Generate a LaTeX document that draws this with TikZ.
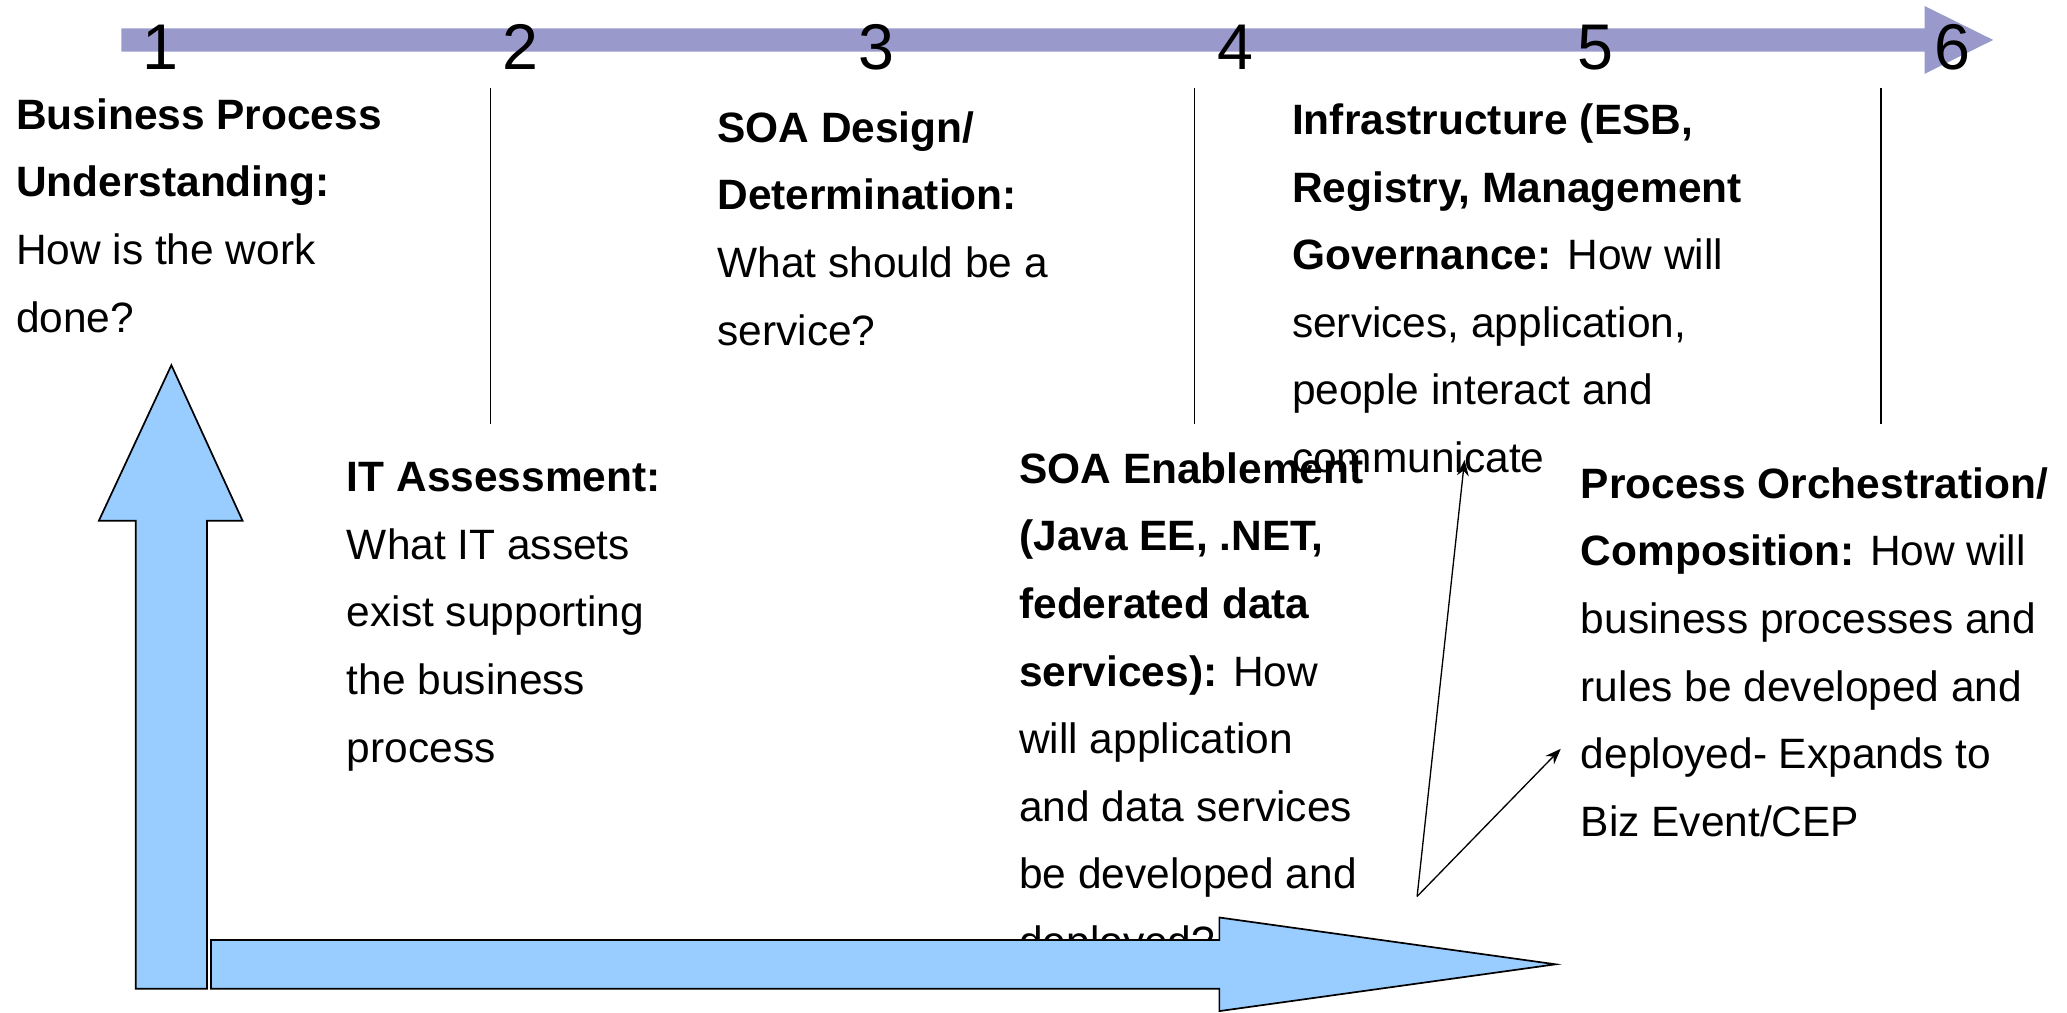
\documentclass[tikz,border=0pt]{standalone}
\usepackage{fontspec}
\setmainfont{Liberation Sans}
\usetikzlibrary{arrows.meta}
\definecolor{timeline}{RGB}{153,153,204}
\definecolor{bigarrow}{RGB}{153,204,255}
\tikzset{
  txt/.style={anchor=base west, inner sep=0pt, font=\fontsize{32.2}{51.3}\selectfont},
  num/.style={anchor=base, inner sep=0pt, font=\fontsize{49}{55}\selectfont},
  divider/.style={draw=black, line width=1pt},
  bigarr/.style={fill=bigarrow, draw=black, line width=1.3pt, line join=miter},
  thinarr/.style={draw=black, line width=1pt, -{Stealth[length=12pt,width=9pt]}}
}
\newcommand{\tb}[2]{\parbox[t]{#1pt}{\raggedright #2}}
\begin{document}
\begin{tikzpicture}[x=1pt,y=-1pt]
\useasboundingbox (0,0) rectangle (1568,768);
% timeline arrow
\fill[timeline] (92,21.5) -- (1460,21.5) -- (1460,4.6) -- (1512,30.3) -- (1460,56) -- (1460,39.2) -- (92,39.2) -- cycle;
% numbers
\node[num] (n1) at (122,53) {1};
\node[num] (n2) at (395,53) {2};
\node[num] (n3) at (665,53) {3};
\node[num] (n4) at (937,53) {4};
\node[num] (n5) at (1210,53) {5};
\node[num] (n6) at (1481,53) {6};
% dividers
\draw[divider] (372,67) -- (372,322);
\draw[divider] (906,67) -- (906,322);
\draw[divider] (1427,67) -- (1427,322);
% texts
\node[txt] (t1) at (12,98) {\tb{400}{\textbf{Business Process}\\\textbf{Understanding:}\\How is the work\\done?}};
\node[txt] (t2) at (544,108) {\tb{400}{\textbf{SOA Design/}\\\textbf{Determination:}\\What should be a\\service?}};
\node[txt] (t3) at (980,102) {\tb{500}{\textbf{Infrastructure (ESB,}\\\textbf{Registry, Management}\\\textbf{Governance:} How will\\services, application,\\people interact and\\communicate}};
\node[txt] (t4) at (263,373) {\tb{400}{\textbf{IT Assessment:}\\What IT assets\\exist supporting\\the business\\process}};
\node[txt] (t5) at (773,366.5) {\tb{400}{\textbf{SOA Enablement}\\\textbf{(Java EE, .NET,}\\\textbf{federated data}\\\textbf{services):} How\\will application\\and data services\\be developed and\\deployed?}};
\node[txt] (t6) at (1199,378) {\tb{400}{\textbf{Process Orchestration/}\\\textbf{Composition:} How will\\business processes and\\rules be developed and\\deployed- Expands to\\Biz Event/CEP}};
% big arrows
\draw[bigarr] (103,750) -- (103,395) -- (75,395) -- (130,277) -- (184,395) -- (157,395) -- (157,750) -- cycle;
\draw[bigarr] (160,713) -- (925,713) -- (925,696) -- (1180,731.5) -- (925,767) -- (925,750) -- (160,750) -- cycle;
% thin arrows
\coordinate (o) at (1075,680);
\coordinate (a1) at (1111,349);
\coordinate (a2) at (1184,568);
\draw[thinarr] (o) -- (a1);
\draw[thinarr] (o) -- (a2);
\end{tikzpicture}
\end{document}
